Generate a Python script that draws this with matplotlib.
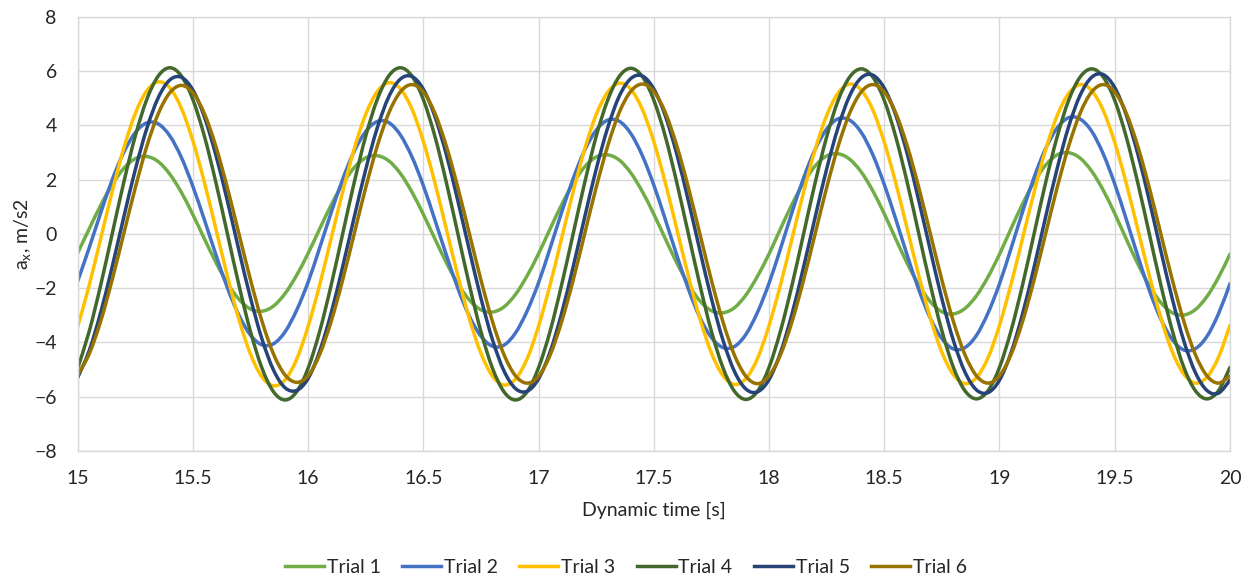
import numpy as np
import matplotlib
matplotlib.use("Agg")
import matplotlib.pyplot as plt
from matplotlib.path import Path
from matplotlib.patches import PathPatch
from matplotlib.lines import Line2D

# sample times, 0.05 s step
time_s = np.linspace(15.0, 20.0, 101)

# a_x [m/s2]
trial1 = [
    -0.71, 0.18, 1.05, 1.82, 2.41, 2.77, 2.85, 2.66, 2.20, 1.53, 0.71, -0.18, -1.05, -1.82, -2.41, -2.77, -2.85, -2.66, -2.20, -1.53,
    -0.72, 0.18, 1.06, 1.84, 2.44, 2.80, 2.88, 2.69, 2.23, 1.55, 0.72, -0.18, -1.06, -1.84, -2.44, -2.80, -2.88, -2.69, -2.23, -1.55,
    -0.73, 0.18, 1.07, 1.86, 2.47, 2.83, 2.91, 2.72, 2.25, 1.56, 0.73, -0.18, -1.07, -1.86, -2.47, -2.83, -2.91, -2.72, -2.25, -1.56,
    -0.74, 0.19, 1.09, 1.89, 2.50, 2.87, 2.95, 2.75, 2.28, 1.59, 0.74, -0.19, -1.09, -1.89, -2.50, -2.87, -2.95, -2.75, -2.28, -1.59,
    -0.75, 0.19, 1.10, 1.91, 2.53, 2.91, 2.99, 2.79, 2.31, 1.61, 0.75, -0.19, -1.10, -1.91, -2.53, -2.91, -2.99, -2.79, -2.31, -1.61,
    -0.75]
trial2 = [
    -1.75, -0.52, 0.77, 1.99, 3.00, 3.73, 4.09, 4.05, 3.61, 2.82, 1.75, 0.52, -0.77, -1.99, -3.00, -3.73, -4.09, -4.05, -3.61, -2.82,
    -1.78, -0.52, 0.78, 2.01, 3.04, 3.77, 4.14, 4.10, 3.65, 2.85, 1.78, 0.52, -0.78, -2.01, -3.04, -3.77, -4.14, -4.10, -3.65, -2.85,
    -1.80, -0.53, 0.79, 2.03, 3.08, 3.82, 4.19, 4.15, 3.70, 2.89, 1.80, 0.53, -0.79, -2.03, -3.08, -3.82, -4.19, -4.15, -3.70, -2.89,
    -1.82, -0.54, 0.80, 2.06, 3.11, 3.86, 4.24, 4.19, 3.74, 2.92, 1.82, 0.54, -0.80, -2.06, -3.11, -3.86, -4.24, -4.19, -3.74, -2.92,
    -1.84, -0.54, 0.81, 2.08, 3.14, 3.90, 4.28, 4.23, 3.78, 2.95, 1.84, 0.54, -0.81, -2.08, -3.14, -3.90, -4.28, -4.23, -3.78, -2.95,
    -1.84]
trial3 = [
    -3.43, -1.90, -0.18, 1.56, 3.15, 4.43, 5.27, 5.60, 5.38, 4.63, 3.43, 1.90, 0.18, -1.56, -3.15, -4.43, -5.27, -5.60, -5.38, -4.63,
    -3.41, -1.89, -0.17, 1.55, 3.13, 4.40, 5.24, 5.57, 5.35, 4.61, 3.41, 1.89, 0.17, -1.55, -3.13, -4.40, -5.24, -5.57, -5.35, -4.61,
    -3.40, -1.88, -0.17, 1.55, 3.12, 4.39, 5.22, 5.55, 5.33, 4.59, 3.40, 1.88, 0.17, -1.55, -3.12, -4.39, -5.22, -5.55, -5.33, -4.59,
    -3.38, -1.87, -0.17, 1.54, 3.10, 4.36, 5.19, 5.52, 5.30, 4.57, 3.38, 1.87, 0.17, -1.54, -3.10, -4.36, -5.19, -5.52, -5.30, -4.57,
    -3.37, -1.86, -0.17, 1.53, 3.09, 4.35, 5.17, 5.50, 5.28, 4.55, 3.37, 1.86, 0.17, -1.53, -3.09, -4.35, -5.17, -5.50, -5.28, -4.55,
    -3.37]
trial4 = [
    -4.95, -3.60, -1.89, 0.00, 1.89, 3.60, 4.95, 5.82, 6.12, 5.82, 4.95, 3.60, 1.89, 0.00, -1.89, -3.60, -4.95, -5.82, -6.12, -5.82,
    -4.95, -3.60, -1.89, 0.00, 1.89, 3.60, 4.95, 5.82, 6.12, 5.82, 4.95, 3.60, 1.89, 0.00, -1.89, -3.60, -4.95, -5.82, -6.12, -5.82,
    -4.93, -3.59, -1.88, 0.00, 1.88, 3.59, 4.93, 5.80, 6.10, 5.80, 4.93, 3.59, 1.88, 0.00, -1.88, -3.59, -4.93, -5.80, -6.10, -5.80,
    -4.92, -3.57, -1.88, 0.00, 1.88, 3.57, 4.92, 5.78, 6.08, 5.78, 4.92, 3.57, 1.88, 0.00, -1.88, -3.57, -4.92, -5.78, -6.08, -5.78,
    -4.92, -3.57, -1.88, 0.00, 1.88, 3.57, 4.92, 5.78, 6.08, 5.78, 4.92, 3.57, 1.88, 0.00, -1.88, -3.57, -4.92, -5.78, -6.08, -5.78,
    -4.92]
trial5 = [
    -5.30, -4.31, -2.90, -1.21, 0.61, 2.36, 3.88, 5.02, 5.67, 5.77, 5.30, 4.31, 2.90, 1.21, -0.61, -2.36, -3.88, -5.02, -5.67, -5.77,
    -5.33, -4.33, -2.92, -1.21, 0.61, 2.37, 3.90, 5.05, 5.70, 5.80, 5.33, 4.33, 2.92, 1.21, -0.61, -2.37, -3.90, -5.05, -5.70, -5.80,
    -5.34, -4.35, -2.93, -1.22, 0.61, 2.38, 3.91, 5.07, 5.72, 5.82, 5.34, 4.35, 2.93, 1.22, -0.61, -2.38, -3.91, -5.07, -5.72, -5.82,
    -5.37, -4.37, -2.94, -1.22, 0.61, 2.39, 3.93, 5.09, 5.75, 5.85, 5.37, 4.37, 2.94, 1.22, -0.61, -2.39, -3.93, -5.09, -5.75, -5.85,
    -5.39, -4.38, -2.95, -1.23, 0.62, 2.40, 3.95, 5.11, 5.77, 5.87, 5.39, 4.38, 2.95, 1.23, -0.62, -2.40, -3.95, -5.11, -5.77, -5.87,
    -5.39]
trial6 = [
    -5.20, -4.43, -3.22, -1.69, 0.00, 1.69, 3.22, 4.43, 5.20, 5.47, 5.20, 4.43, 3.22, 1.69, 0.00, -1.69, -3.22, -4.43, -5.20, -5.47,
    -5.23, -4.45, -3.23, -1.70, 0.00, 1.70, 3.23, 4.45, 5.23, 5.50, 5.23, 4.45, 3.23, 1.70, 0.00, -1.70, -3.23, -4.45, -5.23, -5.50,
    -5.25, -4.47, -3.24, -1.71, 0.00, 1.71, 3.24, 4.47, 5.25, 5.52, 5.25, 4.47, 3.24, 1.71, 0.00, -1.71, -3.24, -4.47, -5.25, -5.52,
    -5.23, -4.45, -3.23, -1.70, 0.00, 1.70, 3.23, 4.45, 5.23, 5.50, 5.23, 4.45, 3.23, 1.70, 0.00, -1.70, -3.23, -4.45, -5.23, -5.50,
    -5.23, -4.45, -3.23, -1.70, 0.00, 1.70, 3.23, 4.45, 5.23, 5.50, 5.23, 4.45, 3.23, 1.70, 0.00, -1.70, -3.23, -4.45, -5.23, -5.50,
    -5.23]

series_names = ["Trial 1", "Trial 2", "Trial 3", "Trial 4", "Trial 5", "Trial 6"]
series_values = [trial1, trial2, trial3, trial4, trial5, trial6]
colors = ["#70AD47", "#4472C4", "#FFC000", "#43682B", "#264478", "#997300"]

x_ticks = [15, 15.5, 16, 16.5, 17, 17.5, 18, 18.5, 19, 19.5, 20]
x_ticklabels = ["15", "15.5", "16", "16.5", "17", "17.5", "18", "18.5", "19", "19.5", "20"]
y_ticks = [-8, -6, -4, -2, 0, 2, 4, 6, 8]


def smooth_path(x, y):
    # Excel-style "smoothed line": cubic bezier through every point (catmull-rom tangents)
    p = np.column_stack([x, y]).astype(float)
    pp = np.vstack([p[:1], p, p[-1:]])
    verts = [p[0]]
    codes = [Path.MOVETO]
    for i in range(len(p) - 1):
        p0, p1, p2, p3 = pp[i], pp[i + 1], pp[i + 2], pp[i + 3]
        verts += [p1 + (p2 - p0) / 6.0, p2 - (p3 - p1) / 6.0, p2]
        codes += [Path.CURVE4] * 3
    return Path(verts, codes)


plt.rcParams["font.family"] = ["Lato", "DejaVu Sans"]
text_col = "#262626"
grid_col = "#D9D9D9"
lw = 2.5

fig = plt.figure(figsize=(12.52, 5.77), dpi=100)
ax = fig.add_axes([0.062, 0.2184, 0.9204, 0.7526])

handles = []
for name, vals, c in zip(series_names, series_values, colors):
    ax.add_patch(PathPatch(smooth_path(time_s, vals), fill=False, edgecolor=c,
                           lw=lw, capstyle="round", joinstyle="round"))
    handles.append(Line2D([], [], color=c, lw=lw, label=name))

ax.set_xlim(15, 20)
ax.set_ylim(-8, 8)
ax.set_xticks(x_ticks)
ax.set_xticklabels(x_ticklabels)
ax.set_yticks(y_ticks)
ax.grid(True, color=grid_col, lw=1.0)
ax.set_axisbelow(True)
for s in ax.spines.values():
    s.set_color(grid_col)
    s.set_linewidth(1.0)
ax.tick_params(length=0, labelsize=14, colors=text_col)
ax.tick_params(axis="x", pad=14)
ax.tick_params(axis="y", pad=15)

ax.set_xlabel("Dynamic time [s]", fontsize=14, color=text_col, labelpad=10)
ax.set_ylabel(r"$\mathregular{a_x}$, m/s2", fontsize=14, color=text_col)
ax.yaxis.set_label_coords(-0.039, 0.5)

fig.legend(handles=handles, loc="center", bbox_to_anchor=(0.5, 0.016), ncol=6,
           frameon=False, fontsize=14, handlelength=2.0, handletextpad=0.15,
           columnspacing=1.1, labelcolor=text_col)

fig.savefig("out.png", dpi=100)
